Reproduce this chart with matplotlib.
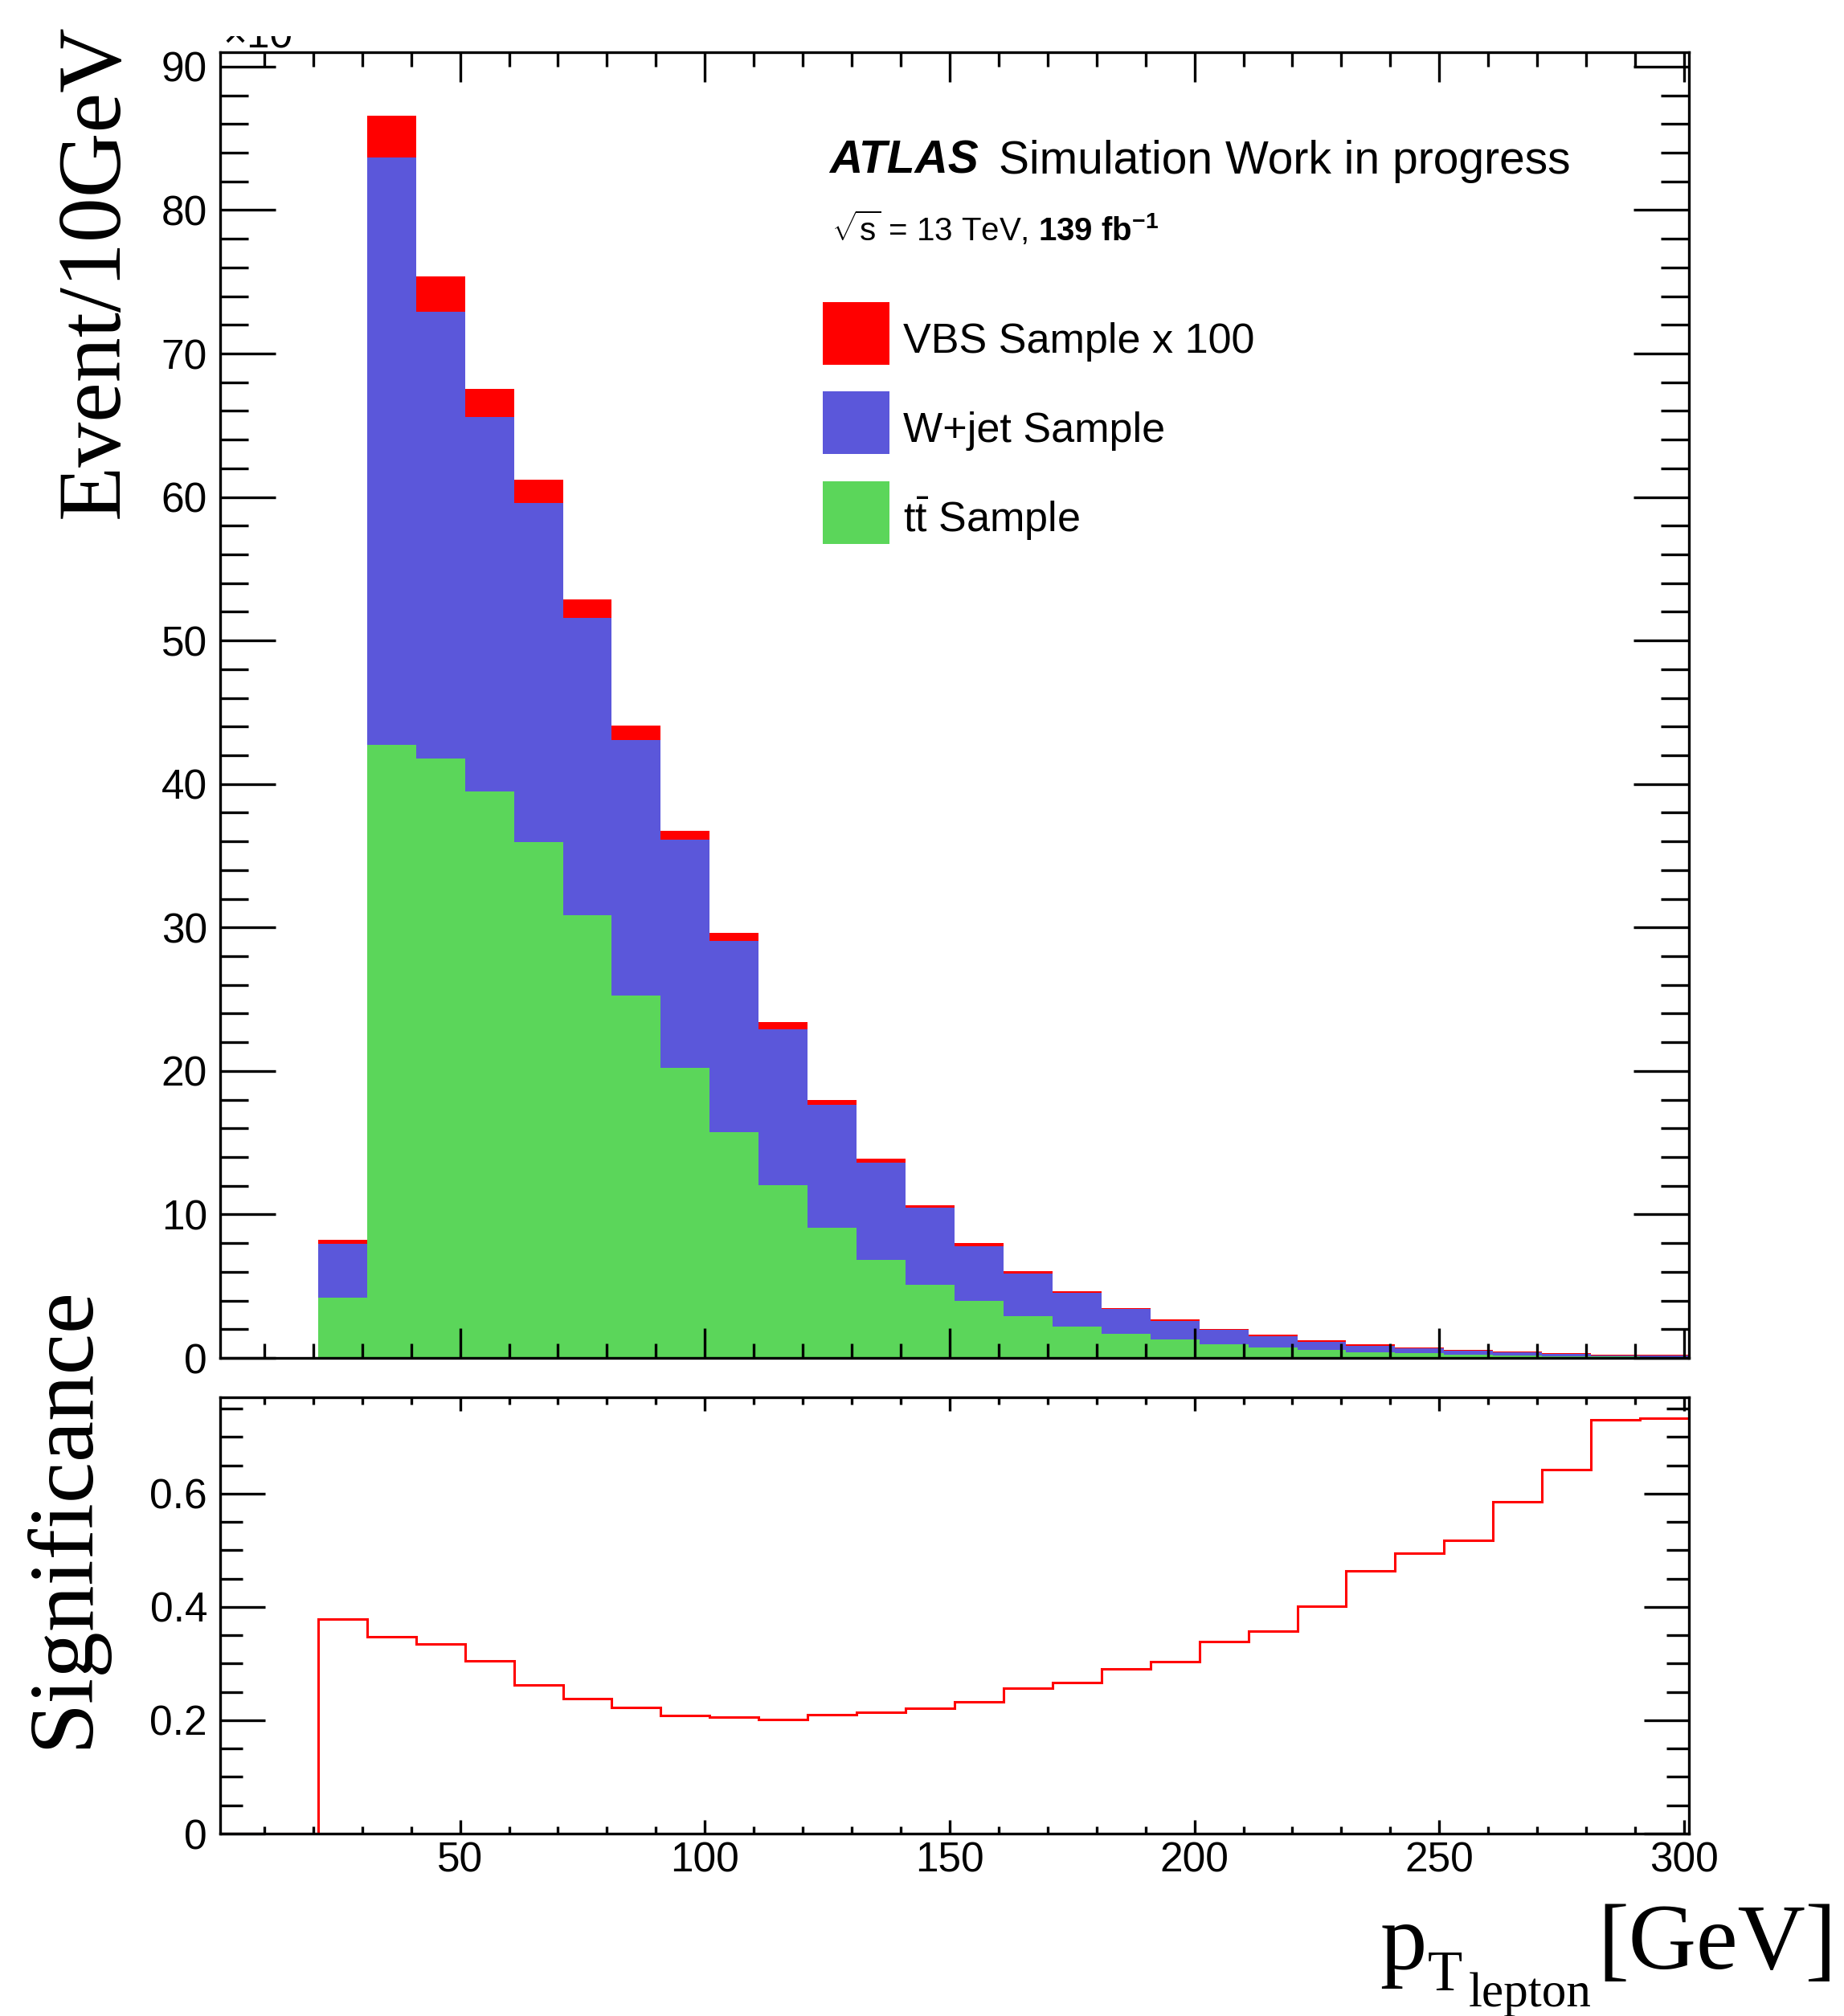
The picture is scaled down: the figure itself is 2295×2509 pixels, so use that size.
import numpy as np
import matplotlib
matplotlib.use("Agg")
import matplotlib.pyplot as plt
from matplotlib.ticker import MultipleLocator, FuncFormatter
from matplotlib.transforms import Bbox

plt.rcParams["font.family"] = "Liberation Sans"
plt.rcParams["mathtext.fontset"] = "custom"
plt.rcParams["mathtext.rm"] = "Liberation Sans"
plt.rcParams["mathtext.it"] = "Liberation Sans:italic"
plt.rcParams["mathtext.bf"] = "Liberation Sans:bold"

W, H, DPI = 2295, 2509, 100

# 10 GeV bins from 1 to 301 GeV
bin_edges = np.arange(1, 302, 10)

# stacked samples (events / 10 GeV, in units of 10^3)
ttbar = [0, 0, 4.20, 42.73, 41.75, 39.50, 35.93, 30.83, 25.24, 20.24,
         15.72, 12.03, 9.07, 6.83, 5.09, 3.95, 2.93, 2.18, 1.68, 1.29,
         0.95, 0.73, 0.56, 0.41, 0.34, 0.22, 0.17, 0.13, 0.09, 0.07]
wjets = [0, 0, 3.73, 40.93, 31.18, 26.08, 23.67, 20.77, 17.85, 15.86,
         13.32, 10.90, 8.59, 6.79, 5.36, 3.85, 2.95, 2.33, 1.72, 1.30,
         0.99, 0.80, 0.58, 0.45, 0.33, 0.28, 0.22, 0.13, 0.10, 0.10]
vbs_x100 = [0, 0, 0.33, 2.91, 2.42, 1.95, 1.59, 1.28, 1.01, 0.63,
            0.56, 0.46, 0.32, 0.26, 0.20, 0.22, 0.16, 0.12, 0.10, 0.08,
            0.06, 0.07, 0.07, 0.07, 0.06, 0.04, 0.04, 0.06, 0.03, 0.05]

significance = [0, 0, 0.378, 0.347, 0.335, 0.305, 0.263, 0.238, 0.222, 0.208,
                0.206, 0.202, 0.210, 0.214, 0.221, 0.232, 0.257, 0.266, 0.290, 0.303,
                0.339, 0.358, 0.402, 0.464, 0.495, 0.518, 0.585, 0.642, 0.731, 0.733]

legend_labels = ["VBS Sample x 100", "W+jet Sample", r"$\mathrm{t\bar{t}}$ Sample"]

RED, BLUE, GREEN = "#ff0000", "#5b57da", "#5bd65a"
SERIF = "Liberation Serif"


def fx(px):
    return px / W


def fy(py):
    return 1 - py / H


fig = plt.figure(figsize=(W / DPI, H / DPI), dpi=DPI)

ax = fig.add_axes([fx(274), fy(1690), fx(2102 - 274), (1690 - 65) / H])
ax2 = fig.add_axes([fx(274), fy(2282), fx(2102 - 274), (2282 - 1739) / H])

# stack drawn back to front, each layer from zero
green_top = np.array(ttbar)
blue_top = green_top + np.array(wjets)
red_top = blue_top + np.array(vbs_x100)
ax.stairs(red_top, bin_edges, baseline=0, fill=True, color=RED, lw=0)
ax.stairs(blue_top, bin_edges, baseline=0, fill=True, color=BLUE, lw=0)
ax.stairs(green_top, bin_edges, baseline=0, fill=True, color=GREEN, lw=0)

ax2.stairs(significance, bin_edges, baseline=None, color=RED, lw=2.2)

ax.set_xlim(1, 301)
ax.set_ylim(0, 91.0)
ax2.set_xlim(1, 301)
ax2.set_ylim(0, 0.77)

spine_w = 2.4
for a in (ax, ax2):
    for s in a.spines.values():
        s.set_linewidth(spine_w)
    a.xaxis.set_major_locator(MultipleLocator(50))
    a.xaxis.set_minor_locator(MultipleLocator(10))

ax.yaxis.set_major_locator(MultipleLocator(10))
ax.yaxis.set_minor_locator(MultipleLocator(2))
ax2.yaxis.set_major_locator(MultipleLocator(0.2))
ax2.yaxis.set_minor_locator(MultipleLocator(0.05))
ax2.yaxis.set_major_formatter(FuncFormatter(lambda v, _: "0" if abs(v) < 1e-9 else f"{v:g}"))

# upper panel ticks
ax.tick_params(axis="y", which="major", direction="in", left=True, right=True,
               length=50, width=spine_w, labelsize=37, pad=11.5)
ax.tick_params(axis="y", which="minor", direction="in", left=True, right=True,
               length=25, width=spine_w)
ax.tick_params(axis="x", which="major", direction="in", top=True, bottom=True,
               length=26.5, width=spine_w, labelbottom=False)
ax.tick_params(axis="x", which="minor", direction="in", top=True, bottom=True,
               length=13, width=spine_w)

# lower panel ticks
ax2.tick_params(axis="y", which="major", direction="in", left=True, right=True,
                length=40, width=spine_w, labelsize=37, pad=11.5)
ax2.tick_params(axis="y", which="minor", direction="in", left=True, right=True,
                length=20, width=spine_w)
ax2.tick_params(axis="x", which="major", direction="in", top=True, bottom=True,
                length=12.5, width=spine_w, labelsize=37, pad=6.5)
ax2.tick_params(axis="x", which="minor", direction="in", top=True, bottom=True,
                length=6.5, width=spine_w)

# axis exponent, cut by the top edge of the pad
expo = fig.text(fx(277), fy(60), "\u00d710", fontsize=37, ha="left", va="baseline")
expo.set_clip_box(Bbox.from_extents(0, 0, W, H - 45))
expo.set_clip_on(True)

# axis titles
fig.text(fx(147), fy(30), "Event/10GeV", family=SERIF, fontsize=80.5,
         rotation=90, rotation_mode="anchor", ha="right", va="baseline")
fig.text(fx(108), fy(1600), "Significance", family=SERIF, fontsize=83,
         rotation=90, rotation_mode="anchor", ha="right", va="baseline")
fig.text(fx(1717), fy(2450), "p", family=SERIF, fontsize=84, ha="left", va="baseline")
fig.text(fx(1777), fy(2477), "T", family=SERIF, fontsize=51, ha="left", va="baseline")
fig.text(fx(1828), fy(2497), "lepton", family=SERIF, fontsize=44, ha="left", va="baseline")
fig.text(fx(1988), fy(2450), "[GeV]", family=SERIF, fontsize=84, ha="left", va="baseline")

# experiment labels
fig.text(fx(1032), fy(216), "ATLAS", fontsize=41, fontweight="bold", fontstyle="italic",
         ha="left", va="baseline")
fig.text(fx(1243), fy(216), "Simulation Work in progress", fontsize=41,
         ha="left", va="baseline")
fig.text(fx(1035), fy(300), r"$\sqrt{\mathrm{s}}$ = 13 TeV, $\mathbf{139\ fb^{-1}}$",
         fontsize=29, ha="left", va="baseline")

# legend
box_tops = [376, 487, 599]
box_colors = [RED, BLUE, GREEN]
for top, col, lab in zip(box_tops, box_colors, legend_labels):
    fig.patches.append(plt.Rectangle((fx(1024), fy(top + 78)), fx(83), 78 / H,
                                     transform=fig.transFigure, color=col, lw=0))
    fig.text(fx(1124), fy(top + 63), lab, fontsize=37.5, ha="left", va="baseline")

fig.savefig("out.png", dpi=DPI)
